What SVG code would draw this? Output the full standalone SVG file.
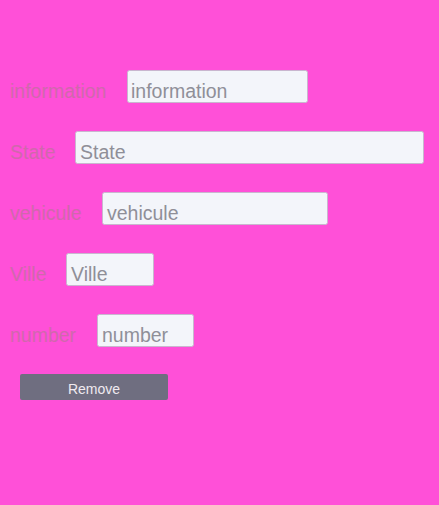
<svg xmlns="http://www.w3.org/2000/svg" width="439" height="505" viewBox="0 0 439 505">
<style>
.lbl{font-family:"Liberation Sans",Arial,sans-serif;font-size:19.5px;fill:#d068ac}
.ph{font-family:"Liberation Sans",Arial,sans-serif;font-size:19.5px;fill:#8f8f98}
.in{fill:#f3f5fa;stroke:#c9b6cf;stroke-width:1}
.btn{fill:#6f6e80}
.bt{font-family:"Liberation Sans",Arial,sans-serif;font-size:14px;fill:#f0eaf0}
</style>
<rect width="439" height="505" fill="#ff50d8"/>
<g id="row-information">
<text class="lbl" x="10" y="98">information</text>
<rect class="in" x="127.5" y="70.5" width="180" height="32" rx="2"/>
<text class="ph" x="131" y="98">information</text>
</g>
<g id="row-state">
<text class="lbl" x="10" y="159">State</text>
<rect class="in" x="75.5" y="131.5" width="348" height="32" rx="2"/>
<text class="ph" x="80" y="159">State</text>
</g>
<g id="row-vehicule">
<text class="lbl" x="10" y="220">vehicule</text>
<rect class="in" x="102.5" y="192.5" width="225" height="32" rx="2"/>
<text class="ph" x="107" y="220">vehicule</text>
</g>
<g id="row-ville">
<text class="lbl" x="10" y="281">Ville</text>
<rect class="in" x="66.5" y="253.5" width="87" height="32" rx="2"/>
<text class="ph" x="71" y="281">Ville</text>
</g>
<g id="row-number">
<text class="lbl" x="10" y="342">number</text>
<rect class="in" x="97.5" y="314.5" width="96" height="32" rx="2"/>
<text class="ph" x="102" y="342">number</text>
</g>
<g id="remove">
<rect class="btn" x="20" y="374" width="148" height="26" rx="2"/>
<text class="bt" x="94" y="394" text-anchor="middle">Remove</text>
</g>
<g id="connectors"/>
</svg>
